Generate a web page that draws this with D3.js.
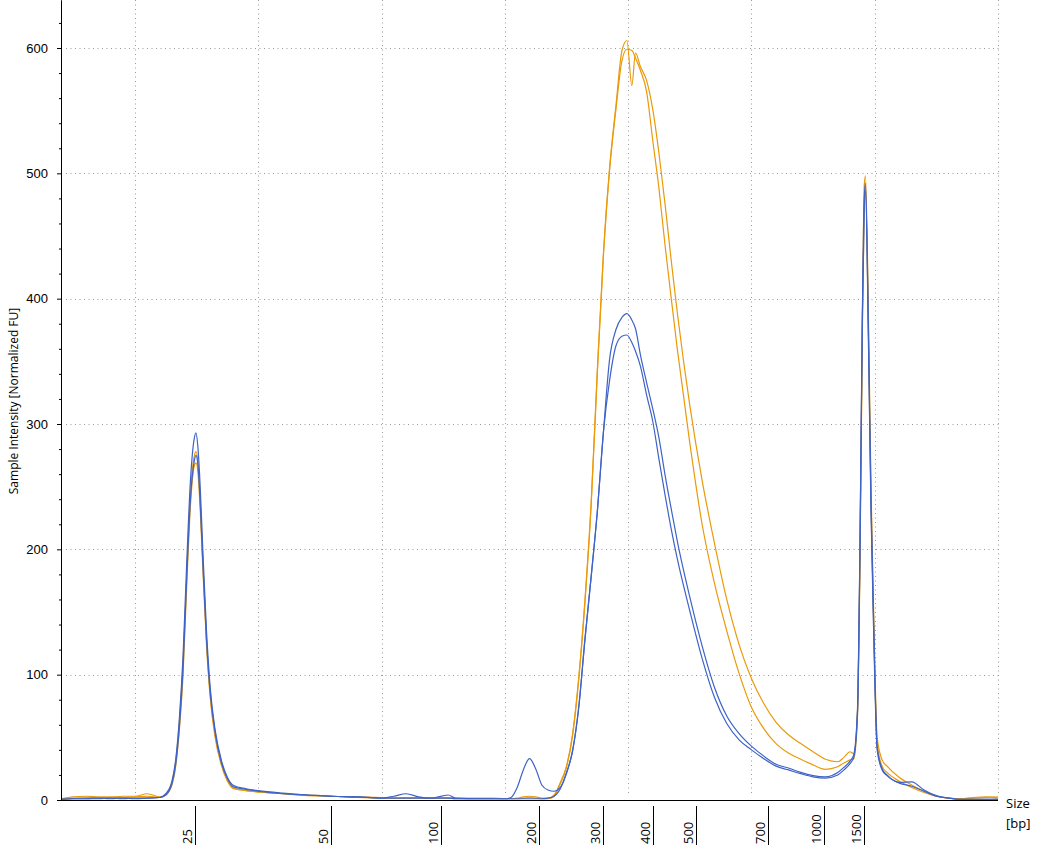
<!DOCTYPE html>
<html>
<head>
<meta charset="utf-8">
<script src="https://cdn.jsdelivr.net/npm/d3@7"></script>
<style>
  body { margin: 0; background: #fff; }
  svg { display: block; font-family: "Open Sans", "Noto Sans", sans-serif; }
  .tick text { font-size: 13px; fill: #000; }
</style>
</head>
<body>
<svg id="chart" width="1044" height="854"></svg>
<script>
// migration time (s) of every sample
let times = [14,15,16,17,18,19,20,21,22,22.5,23,23.3,23.6,23.9,24.2,24.5,24.8,24.95,25.1,25.3,25.5,25.8,26.1,26.5,27,27.5,28,29,30,32,34,36,38,40,41,42,43,44,45.4,46,48,49,50,50.5,51,51.5,52,52.5,53,53.5,54,54.5,55,55.5,56,56.5,57,57.5,58,58.5,59,59.5,59.9,60.3,60.6,61,61.5,62,62.5,63,63.5,64,65,66,67,68,69,70,71,72,73,74,75,76,77,77.5,78,78.3,78.6,78.8,79.0,79.15,79.25,79.5,79.7,79.9,80.2,80.6,81,82,83,84,85,86,87,88,89,90];

// sample intensities [FU]
let blueA = [0.5,1,1,1,1.5,1,1.5,1.5,2,5,15,32,65,115,190,255,288,293,282,248,200,135,90,56,32,18,11.5,9,7.5,5.5,4,3,2.5,1.5,3,5,2.5,1.5,4,1.5,1,1,1,1,1,1,1,1,1,1.5,3,9,21,40,74,129,178,230,294,352,375,385,388,383,376,355,333,312,289,259,232,206,162,123,90,67,53,43,35,28.5,25.5,22,19.5,18.5,22,26,31,36,72,200,390,480,492,370,240,150,42,25,20,14,14.5,8,3.5,1.5,0.5,0.5,0.5,0.5];
let blueB = [0.5,1,1,1.5,1,1.5,1,1.5,2,4,13,28,58,105,178,240,270,275,268,235,190,128,86,54,30,17,10.5,8.5,7,5,4,3,2.5,1.5,1.5,1.5,1.5,1.5,1.5,1,1,1,1,2,10,24,33,25,12,8,7,10,22,39,75,128,178,230,294,335,362,370,371,365,358,346,323,302,272,243,216,192,151,113,82,61,48,40,33,27,24,21,18.5,17.5,20,24,29,34,68,195,385,470,486,360,230,140,40,24,19.5,13.5,11,7,3,1.5,0.5,0.5,0.5,0.5];
let orangeA = [1,2.5,3,2.5,2,3,3,5,2.5,4,14,30,62,110,180,245,274,278,270,238,192,128,84,52,29,16,9.5,7.5,6.5,5,4,3,2.5,2,1.5,2,2,1.5,2,1.5,1.5,1.5,1,1,1.5,2.5,3,2.5,1.5,1.5,4,14,27,53,98,160,237,343,437,505,553,598,606,570,596,585,574,551,516,475,430,388,315,255,205,160,124,97,77,62,52,45,38.5,32.5,30.5,34,38.5,37,70,190,380,490,498,380,250,155,50,32,27,18,12,7,3,1.5,1,2,2.5,1.5];
let orangeB = [1,1.5,2,2,2.5,2,2.5,3,2,4,12,27,56,100,172,235,266,269,262,230,186,124,82,50,28,15,9,7.5,6.5,5,3.5,3,2,1.5,1.5,1.5,1.5,1.5,1.5,1,1,1,1,1,1,1.5,2,1.5,1,1,3,13,26,52,97,158,235,340,435,503,550,590,599,598,592,582,565,526,488,442,400,359,285,220,173,135,101,74,57,45,37.5,32.5,28,24.5,26.5,29.5,32,33,66,185,375,475,490,365,235,145,45,27,22,15,10,6,3,1.5,1,1.5,2,2.5];

// size ladder: fragment size [bp] and its migration time (s)
let ladderSizes = [25,50,100,200,300,400,500,700,1000,1500];
let ladderTimes = [24.89,35.92,44.84,52.79,57.96,62.04,65.5,71.32,75.86,79.13];

let yTicks = [0,100,200,300,400,500,600];
let gridTimes = [20,30,40,50,60,70,80,90];

let traces = [
  {values: orangeA, color: "#E99A0B"},
  {values: orangeB, color: "#E99A0B"},
  {values: blueA, color: "#3E63C8"},
  {values: blueB, color: "#3E63C8"}
];

var svg = d3.select("#chart");

var x = d3.scaleLinear().domain([14, 90]).range([61, 998]);
var y = d3.scaleLinear().domain([0, 638.3]).range([800, 0]);

// dotted grid
svg.append("g").selectAll("line")
  .data(yTicks.slice(1))
  .enter().append("line")
    .attr("x1", 66).attr("x2", x(90) + 2)
    .attr("y1", function(d) { return Math.round(y(d)) + 0.5; })
    .attr("y2", function(d) { return Math.round(y(d)) + 0.5; })
    .attr("stroke", "#9a9a9a")
    .attr("stroke-dasharray", "1,3.5");

svg.append("g").selectAll("line")
  .data(gridTimes)
  .enter().append("line")
    .attr("x1", function(d) { return Math.round(x(d)) + 0.5; })
    .attr("x2", function(d) { return Math.round(x(d)) + 0.5; })
    .attr("y1", 0).attr("y2", y(0) - 4)
    .attr("stroke", "#9a9a9a")
    .attr("stroke-dasharray", "1,3.5");

// traces
var line = d3.line()
  .x(function(d, i) { return x(times[i]); })
  .y(function(d) { return y(d); })
  .curve(d3.curveMonotoneX);

svg.append("g").selectAll("path")
  .data(traces)
  .enter().append("path")
    .attr("d", function(d) { return line(d.values); })
    .attr("fill", "none")
    .attr("stroke", function(d) { return d.color; })
    .attr("stroke-width", 1.2);

// y axis with minor ticks
var minor = d3.range(0, 640, 20).filter(function(v) { return v % 100 !== 0; });
svg.append("g")
  .attr("transform", "translate(61,0)")
  .call(d3.axisLeft(y).tickValues(minor).tickSize(2).tickSizeOuter(0).tickFormat(""));

svg.append("g")
  .attr("transform", "translate(61,0)")
  .call(d3.axisLeft(y).tickValues(yTicks).tickSize(4).tickSizeOuter(0).tickPadding(9));

// x baseline
svg.append("line")
  .attr("x1", 61).attr("x2", x(90))
  .attr("y1", 800.5).attr("y2", 800.5)
  .attr("stroke", "#000");

// ladder marks
var ladder = svg.append("g").selectAll("g")
  .data(ladderTimes)
  .enter().append("g")
    .attr("transform", function(d) { return "translate(" + (Math.round(x(d)) + 0.5) + ",0)"; });

ladder.append("line")
  .attr("y1", 806).attr("y2", 845)
  .attr("stroke", "#000");

ladder.append("text")
  .attr("transform", "translate(-4,844) rotate(-90)")
  .style("font-size", "13px")
  .text(function(d, i) { return ladderSizes[i]; });

// axis titles
svg.append("text")
  .attr("x", 1006).attr("y", 808)
  .style("font-size", "13px")
  .text("Size");
svg.append("text")
  .attr("x", 1006).attr("y", 828)
  .style("font-size", "13px")
  .text("[bp]");

svg.append("text")
  .attr("transform", "translate(18,401) rotate(-90)")
  .attr("text-anchor", "middle")
  .style("font-size", "12px")
  .text("Sample Intensity [Normalized FU]");
</script>
</body>
</html>
